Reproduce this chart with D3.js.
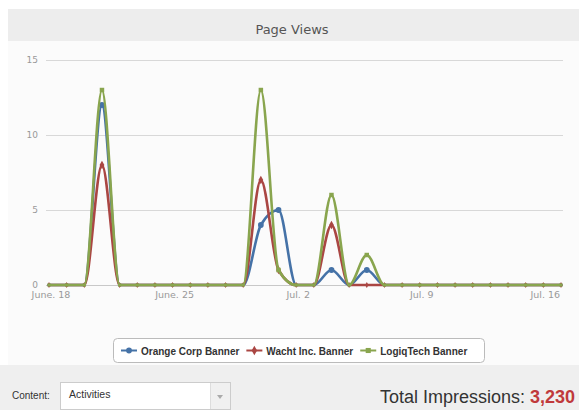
<!DOCTYPE html>
<html>
<head>
<meta charset="utf-8">
<script src="https://cdn.jsdelivr.net/npm/d3@7"></script>
<style>
  body { margin: 0; background: #fff; }
  svg { display: block; }
</style>
</head>
<body>
<script>
// one point per day, June 18 - July 17
var startDay = "2012-06-18";
var orangeCorp = [0,0,0,12,0,0,0,0,0,0,0,0,4,5,0,0,1,0,1,0,0,0,0,0,0,0,0,0,0,0];
var wachtInc   = [0,0,0,8,0,0,0,0,0,0,0,0,7,1,0,0,4,0,0,0,0,0,0,0,0,0,0,0,0,0];
var logiqTech  = [0,0,0,13,0,0,0,0,0,0,0,0,13,1,0,0,6,0,2,0,0,0,0,0,0,0,0,0,0,0];
var seriesNames = ["Orange Corp Banner", "Wacht Inc. Banner", "LogiqTech Banner"];
var yTicks = [0, 5, 10, 15];
var xTickDays = ["2012-06-18", "2012-06-25", "2012-07-02", "2012-07-09", "2012-07-16"];
var totalImpressions = 3230;

var W = 579, H = 410;
var colors = ["#4572A7", "#AA4643", "#89A54E"];
var symbols = [d3.symbolCircle, d3.symbolDiamond, d3.symbolSquare];

var parse = d3.timeParse("%Y-%m-%d");
var t0 = parse(startDay);
var days = orangeCorp.map(function(d, i) { return d3.timeDay.offset(t0, i); });
var allSeries = [orangeCorp, wachtInc, logiqTech];

var svg = d3.select("body").append("svg")
    .attr("width", W)
    .attr("height", H);

// backgrounds
svg.append("rect").attr("x", 8).attr("y", 9).attr("width", W - 8).attr("height", 32).attr("fill", "#ededed");
svg.append("rect").attr("x", 8).attr("y", 41).attr("width", W - 8).attr("height", 324).attr("fill", "#fbfbfb");
svg.append("rect").attr("x", 0).attr("y", 365).attr("width", W).attr("height", H - 365).attr("fill", "#efefef");

svg.append("text")
    .attr("x", 292).attr("y", 34)
    .attr("text-anchor", "middle")
    .style("font-family", "DejaVu Sans, sans-serif")
    .style("font-size", "13px")
    .style("fill", "#555")
    .text("Page Views");

var x = d3.scaleTime()
    .domain([days[0], days[days.length - 1]])
    .range([49, 561]);
var y = d3.scaleLinear().domain([0, 15]).range([285, 60]);

// grid
svg.append("g")
    .selectAll("line")
    .data(yTicks)
    .enter().append("line")
    .attr("x1", 46).attr("x2", 563)
    .attr("y1", function(d) { return y(d) + 0.5; })
    .attr("y2", function(d) { return y(d) + 0.5; })
    .attr("stroke", function(d) { return d === 0 ? "#c8c8c8" : "#d8d8d8"; })
    .attr("stroke-width", 1);

svg.append("g")
    .selectAll("text")
    .data(yTicks)
    .enter().append("text")
    .attr("x", 38)
    .attr("y", function(d) { return y(d) + 3; })
    .attr("text-anchor", "end")
    .style("font-family", "DejaVu Sans, sans-serif")
    .style("font-size", "9px")
    .style("fill", "#999")
    .text(function(d) { return d; });

var fmt = d3.timeFormat("%b. %-d");
svg.append("g")
    .selectAll("text")
    .data(xTickDays.map(parse))
    .enter().append("text")
    .attr("x", function(d) { return x(d) + 2; })
    .attr("y", 298)
    .attr("text-anchor", "middle")
    .style("font-family", "DejaVu Sans, sans-serif")
    .style("font-size", "9.5px")
    .style("fill", "#999")
    .text(function(d) { return d.getMonth() === 5 ? "June. " + d.getDate() : fmt(d); });

var line = d3.line()
    .x(function(d, i) { return x(days[i]); })
    .y(function(d) { return y(d); })
    .curve(d3.curveMonotoneX);

allSeries.forEach(function(vals, k) {
    var g = svg.append("g");
    g.append("path")
        .attr("d", line(vals))
        .attr("fill", "none")
        .attr("stroke", colors[k])
        .attr("stroke-width", 2.6)
        .attr("stroke-linejoin", "round");
    g.selectAll("path.m")
        .data(vals)
        .enter().append("path")
        .attr("class", "m")
        .attr("transform", function(d, i) { return "translate(" + x(days[i]) + "," + y(d) + ")"; })
        .attr("d", d3.symbol().type(symbols[k]).size(function(d) { return d ? (k === 0 ? 26 : 20) : 10; }))
        .attr("fill", colors[k]);
});

// legend
var lg = svg.append("g");
lg.append("rect")
    .attr("x", 113.5).attr("y", 338.5)
    .attr("width", 371).attr("height", 24)
    .attr("rx", 4)
    .attr("fill", "#fff")
    .attr("stroke", "#bbb");
var lxPos = 121;
seriesNames.forEach(function(name, k) {
    var it = lg.append("g").attr("transform", "translate(" + lxPos + ",350.5)");
    it.append("line").attr("x1", 0).attr("x2", 16)
        .attr("stroke", colors[k]).attr("stroke-width", 2);
    it.append("path")
        .attr("transform", "translate(8,0)")
        .attr("d", d3.symbol().type(symbols[k]).size(26))
        .attr("fill", colors[k]);
    var t = it.append("text")
        .attr("x", 20).attr("y", 4)
        .style("font-family", "Liberation Sans, Arial, sans-serif")
        .style("font-size", "10px")
        .style("font-weight", "bold")
        .style("fill", "#333")
        .text(name);
    lxPos += 20 + t.node().getComputedTextLength() + 7;
});

// bottom bar
svg.append("text")
    .attr("x", 12).attr("y", 399)
    .style("font-family", "Liberation Sans, Arial, sans-serif")
    .style("font-size", "10px")
    .style("fill", "#333")
    .text("Content:");
svg.append("rect")
    .attr("x", 60.5).attr("y", 382.5)
    .attr("width", 170).attr("height", 27)
    .attr("fill", "#fff")
    .attr("stroke", "#ccc");
svg.append("rect")
    .attr("x", 211).attr("y", 383)
    .attr("width", 19).attr("height", 26)
    .attr("fill", "#f0f0f0");
svg.append("line")
    .attr("x1", 210.5).attr("x2", 210.5).attr("y1", 383).attr("y2", 409)
    .attr("stroke", "#ddd");
svg.append("path")
    .attr("d", "M217,395 L223,395 L220,399 Z")
    .attr("fill", "#aaa");
svg.append("text")
    .attr("x", 69).attr("y", 398)
    .style("font-family", "Liberation Sans, Arial, sans-serif")
    .style("font-size", "10.5px")
    .style("fill", "#333")
    .text("Activities");

var tot = svg.append("text")
    .attr("x", 575).attr("y", 403)
    .attr("text-anchor", "end")
    .style("font-family", "Liberation Sans, Arial, sans-serif")
    .style("font-size", "18px")
    .style("fill", "#333");
tot.append("tspan").text("Total Impressions: ");
tot.append("tspan")
    .style("font-weight", "bold")
    .style("fill", "#C0393B")
    .text(d3.format(",")(totalImpressions));
</script>
</body>
</html>
